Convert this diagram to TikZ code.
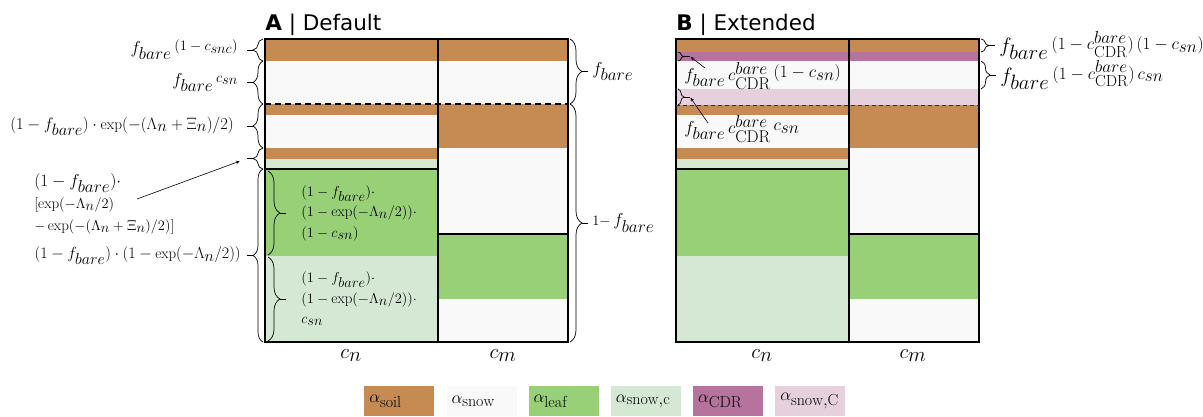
\documentclass[tikz,border=0pt]{standalone}
\usepackage{amsmath}
\usepackage{graphicx}
\usepackage{fontspec}
\usepackage{xcolor}
\usepackage{tikz}
\usetikzlibrary{calc}
\usetikzlibrary{decorations.pathreplacing}
\newfontfamily\headfont{DejaVu Sans}
\definecolor{soil}{RGB}{198,139,83}
\definecolor{snow}{RGB}{249,249,249}
\definecolor{leaf}{RGB}{152,208,120}
\definecolor{snowc}{RGB}{213,232,212}
\definecolor{cdr}{RGB}{181,115,157}
\definecolor{snowC}{RGB}{230,208,222}
\newcommand{\lowr}[1]{_{\textstyle #1}}
\newcommand{\rais}[2][14]{\raisebox{3pt}{\fontsize{#1}{#1}\selectfont$#2$}}
\newcommand{\cdrc}{c^{\textstyle bare}_{\textstyle\mathrm{CDR}}}
% x, top, bottom, amplitude, tick name
\newcommand{\bracel}[5]{%
  \draw[brc,decoration={amplitude=#4pt}] (#1,#3) -- (#1,#2);
  \draw ($(#1,#2)!.5!(#1,#3)+(-#4,0)$) -- ++(-6,0) coordinate (#5);}
\newcommand{\bracer}[5]{%
  \draw[brc,decoration={amplitude=#4pt}] (#1,#2) -- (#1,#3);
  \draw ($(#1,#2)!.5!(#1,#3)+(#4,0)$) -- ++(6,0) coordinate (#5);}

\begin{document}
\begin{tikzpicture}[x=1pt,y=-1pt,semithick]
	\tikzstyle{brc}=[decorate,decoration={brace},line width=0.7pt]
	\tikzstyle{lbl}=[inner sep=1pt,font=\fontsize{17}{20}\selectfont]
	\tikzstyle{inlbl}=[inner sep=1pt,align=left,font=\fontsize{15}{20.5}\selectfont]
	\tikzstyle{frame}=[line width=1.5pt]
	\tikzstyle{legbox}=[anchor=north west,text width=60pt,inner sep=5pt,minimum height=30pt,align=left,font=\fontsize{16}{16}\selectfont]
	\useasboundingbox (0,0) rectangle (1203,416);

	\foreach \c/\ya/\yb in {soil/39/61, snow/61/104, soil/104/115, snow/115/148, soil/148/159, snowc/159/169, leaf/169/256, snowc/256/342}
		\fill[\c] (265,\ya) rectangle (438,\yb);
	\foreach \c/\ya/\yb in {soil/39/61, snow/61/104, soil/104/148, snow/148/234, leaf/234/299, snow/299/342}
		\fill[\c] (438,\ya) rectangle (568,\yb);
	\foreach \c/\ya/\yb in {soil/39/52, cdr/52/61, snow/61/89, snowC/89/105, soil/105/115, snow/115/148, soil/148/159, snowc/159/169, leaf/169/256, snowc/256/342}
		\fill[\c] (676,\ya) rectangle (849,\yb);
	\foreach \c/\ya/\yb in {soil/39/52, cdr/52/61, snow/61/89, snowC/89/105, soil/105/148, snow/148/234, leaf/234/299, snow/299/342}
		\fill[\c] (849,\ya) rectangle (979,\yb);

	\foreach \dx in {0,411}{
		\draw[frame] (265+\dx,39) rectangle (568+\dx,342);
		\draw[frame] (438+\dx,39) -- (438+\dx,342);
		\draw[frame] (265+\dx,169) -- (438+\dx,169);
		\draw[frame] (438+\dx,234) -- (568+\dx,234);
	}
	\draw[frame,dash pattern=on 6pt off 4pt] (265,104) -- (568,104);
	\draw[line width=0.6pt,dash pattern=on 4pt off 3pt,black!80] (676,105) -- (979,105);

	\node[anchor=base west,inner sep=0,font=\headfont\fontsize{21.5}{22}\selectfont] (tA) at (265,30) {\textbf{A} | Default};
	\node[anchor=base west,inner sep=0,font=\headfont\fontsize{21.5}{22}\selectfont] (tB) at (676,30) {\textbf{B} | Extended};

	\foreach \x/\m/\n in {351/n/cnA, 503/m/cmA, 762/n/cnB, 913/m/cmB}
		\node[anchor=base,font=\fontsize{20}{20}\selectfont] (\n) at (\x,358) {$c\lowr{\m}$};

	\bracel{263}{39}{61}{10}{t1}
	\bracel{263}{61}{104}{10}{t2}
	\bracel{263}{104}{148}{10}{t3}
	\bracel{263}{148}{169}{10}{t4}
	\bracel{263}{169}{342}{10}{t5}
	\node[lbl,anchor=east] (l1) at ($(t1)+(-8,0)$) {$f\lowr{bare}\,\rais{(1-c\lowr{snc})}$};
	\node[lbl,anchor=east] (l2) at ($(t2)+(-8,0)$) {$f\lowr{bare}\,\rais{c\lowr{sn}}$};
	\node[lbl,anchor=east,font=\fontsize{16}{20}\selectfont] (l3) at ($(t3)+(-12,0)$) {\scalebox{0.955}{$(1-f\lowr{bare})\cdot\exp(-(\Lambda\lowr{n}+\Xi\lowr{n})/2)$}};
	\node[lbl,anchor=east,font=\fontsize{16}{20}\selectfont] (l5) at ($(t5)+(-5,0)$) {\scalebox{0.93}{$(1-f\lowr{bare})\cdot(1-\exp(-\Lambda\lowr{n}/2))$}};
	\node[inlbl,anchor=west,font=\fontsize{15}{22}\selectfont] (l4) at (33,204) {\fontsize{17.5}{22}\selectfont$(1-f\lowr{bare})\cdot$\\$[\exp(-\Lambda\lowr{n}/2)$\\$-\exp(-(\Lambda\lowr{n}+\Xi\lowr{n})/2)]$};
	\coordinate (a4) at (137,199);
	\draw[->,>=stealth,shorten >=8pt] (a4) -- (t4);

	\bracer{268}{171}{255}{12}{t6}
	\bracer{268}{257}{341}{12}{t7}
	\node[inlbl,anchor=west] (l6) at (300,213) {$(1-f\lowr{bare})\cdot$\\$(1-\exp(-\Lambda\lowr{n}/2))\cdot$\\$(1-c\lowr{sn})$};
	\node[inlbl,anchor=west] (l7) at (300,299) {$(1-f\lowr{bare})\cdot$\\$(1-\exp(-\Lambda\lowr{n}/2))\cdot$\\$c\lowr{sn}$};

	\bracer{570}{39}{104}{12}{t8}
	\bracer{570}{104}{342}{12}{t9}
	\node[lbl,anchor=west] (l8) at ($(t8)+(3,0)$) {$f\lowr{bare}$};
	\node[lbl,anchor=west] (l9) at ($(t9)+(3,0)$) {$\mbox{\fontsize{14}{14}\selectfont$1-$}\,f\lowr{bare}$};

	\bracer{981}{39}{52}{8}{t10}
	\bracer{981}{61}{89}{9}{t11}
	\node[lbl,anchor=west,font=\fontsize{19.5}{20}\selectfont] (l10) at ($(t10)+(3,0)$) {$f\lowr{bare}\,\rais[16]{(1-\cdrc)\,(1-c\lowr{sn})}$};
	\node[lbl,anchor=west,font=\fontsize{19.5}{20}\selectfont] (l11) at ($(t11)+(3,0)$) {$f\lowr{bare}\,\rais[16]{(1-\cdrc)\,c\lowr{sn}}$};

	\bracer{678}{52}{61}{6}{t12}
	\bracer{678}{89}{105}{6}{t13}
	\node[lbl,anchor=west] (l12) at (683,76) {$f\lowr{bare}\,\cdrc\,\rais[16]{(1-c\lowr{sn})}$};
	\node[lbl,anchor=west] (l13) at (683,129) {$f\lowr{bare}\,\cdrc\,\rais[16]{c\lowr{sn}}$};
	\coordinate (a12) at (705,68);
	\coordinate (a13) at (708,123);
	\draw[->,>=stealth,shorten >=1pt] (a12) -- (t12);
	\draw[->,>=stealth,shorten >=1pt] (a13) -- (t13);

	\foreach \c/\t [count=\i] in {soil/\mathrm{soil}, snow/\mathrm{snow}, leaf/\mathrm{leaf}, snowc/{\mathrm{snow{,}c}}, cdr/\mathrm{CDR}, snowC/{\mathrm{snow{,}C}}}
		\node[legbox,fill=\c] (g\i) at ({364+82.2*(\i-1)},386) {$\alpha\lowr{\t}$};
\end{tikzpicture}
\end{document}
